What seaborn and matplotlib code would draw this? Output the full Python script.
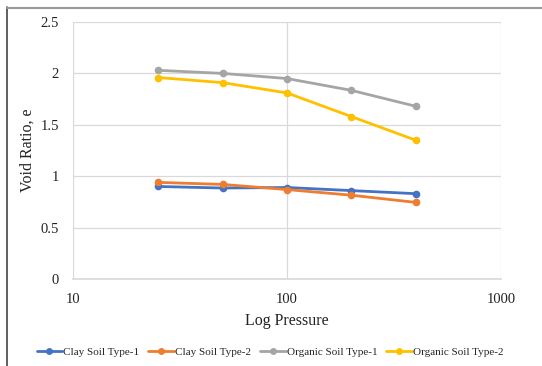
import matplotlib
matplotlib.use("Agg")
import matplotlib.pyplot as plt
import seaborn as sns
import pandas as pd
from matplotlib.lines import Line2D

pressure = [25, 50, 100, 200, 400]
clay1 = [0.90, 0.885, 0.89, 0.86, 0.83]
clay2 = [0.94, 0.92, 0.87, 0.815, 0.745]
org1 = [2.03, 2.00, 1.95, 1.835, 1.68]
org2 = [1.96, 1.91, 1.81, 1.58, 1.35]
series_names = ["Clay Soil Type-1", "Clay Soil Type-2", "Organic Soil Type-1", "Organic Soil Type-2"]
colors = ["#4472C4", "#ED7D31", "#A5A5A5", "#FFC000"]
yticks = [0, 0.5, 1, 1.5, 2, 2.5]
ytick_labels = ["0", "0.5", "1", "1.5", "2", "2.5"]
xticks = [10, 100, 1000]
xtick_labels = ["10", "100", "1000"]

rows = []
for name, vals in zip(series_names, [clay1, clay2, org1, org2]):
    for p, v in zip(pressure, vals):
        rows.append({"Pressure": p, "e": v, "Series": name})
df = pd.DataFrame(rows)

sns.set_theme(style="white")
plt.rcParams["font.family"] = ["Liberation Serif", "DejaVu Serif"]

fig = plt.figure(figsize=(5.42, 3.66), dpi=100)
ax = fig.add_axes([73/542, 1-279/366, (501-73)/542, (279-22)/366])

sns.lineplot(data=df, x="Pressure", y="e", hue="Series", palette=colors,
             marker="o", markersize=5.5, markeredgewidth=0, linewidth=2.0,
             ax=ax, legend=False)
ax.set_xscale("log")
ax.set_xlim(10, 1000)
ax.set_ylim(0, 2.5)
ax.set_xticks(xticks)
ax.set_xticklabels(xtick_labels)
ax.minorticks_off()
ax.set_yticks(yticks)
ax.set_yticklabels(ytick_labels)
ax.grid(True, color="#D9D9D9", linewidth=0.9)
ax.set_axisbelow(True)
for s in ["top", "right", "left"]:
    ax.spines[s].set_visible(False)
ax.spines["bottom"].set_color("#D9D9D9")
ax.tick_params(axis="x", length=0, labelsize=10.5, colors="#222222", pad=10)
ax.tick_params(axis="y", length=0, labelsize=10.5, colors="#222222", pad=10)
ax.set_xlabel("Log Pressure", fontsize=11.5, color="#222222", labelpad=5)
ax.set_ylabel("Void Ratio, e", fontsize=11.5, color="#222222")
ax.yaxis.set_label_coords(-37/428, 0.5)

handles = [Line2D([0], [0], color=c, marker="o", markersize=5, linewidth=2, markeredgewidth=0)
           for c in colors]
fig.legend(handles, series_names, loc="center", bbox_to_anchor=(270/542, 1-352/366),
           ncol=4, frameon=False, fontsize=8, handlelength=2.3, handletextpad=0.1,
           columnspacing=0.8, borderpad=0)

# outer frame lines
fig.add_artist(Line2D([6.5/542, 6.5/542], [0, 1-7/366], transform=fig.transFigure, color="#444444", linewidth=1.2))
fig.add_artist(Line2D([6.5/542, 1], [1-7.5/366, 1-7.5/366], transform=fig.transFigure, color="#999999", linewidth=1.5))

fig.savefig("out.png", dpi=100)
